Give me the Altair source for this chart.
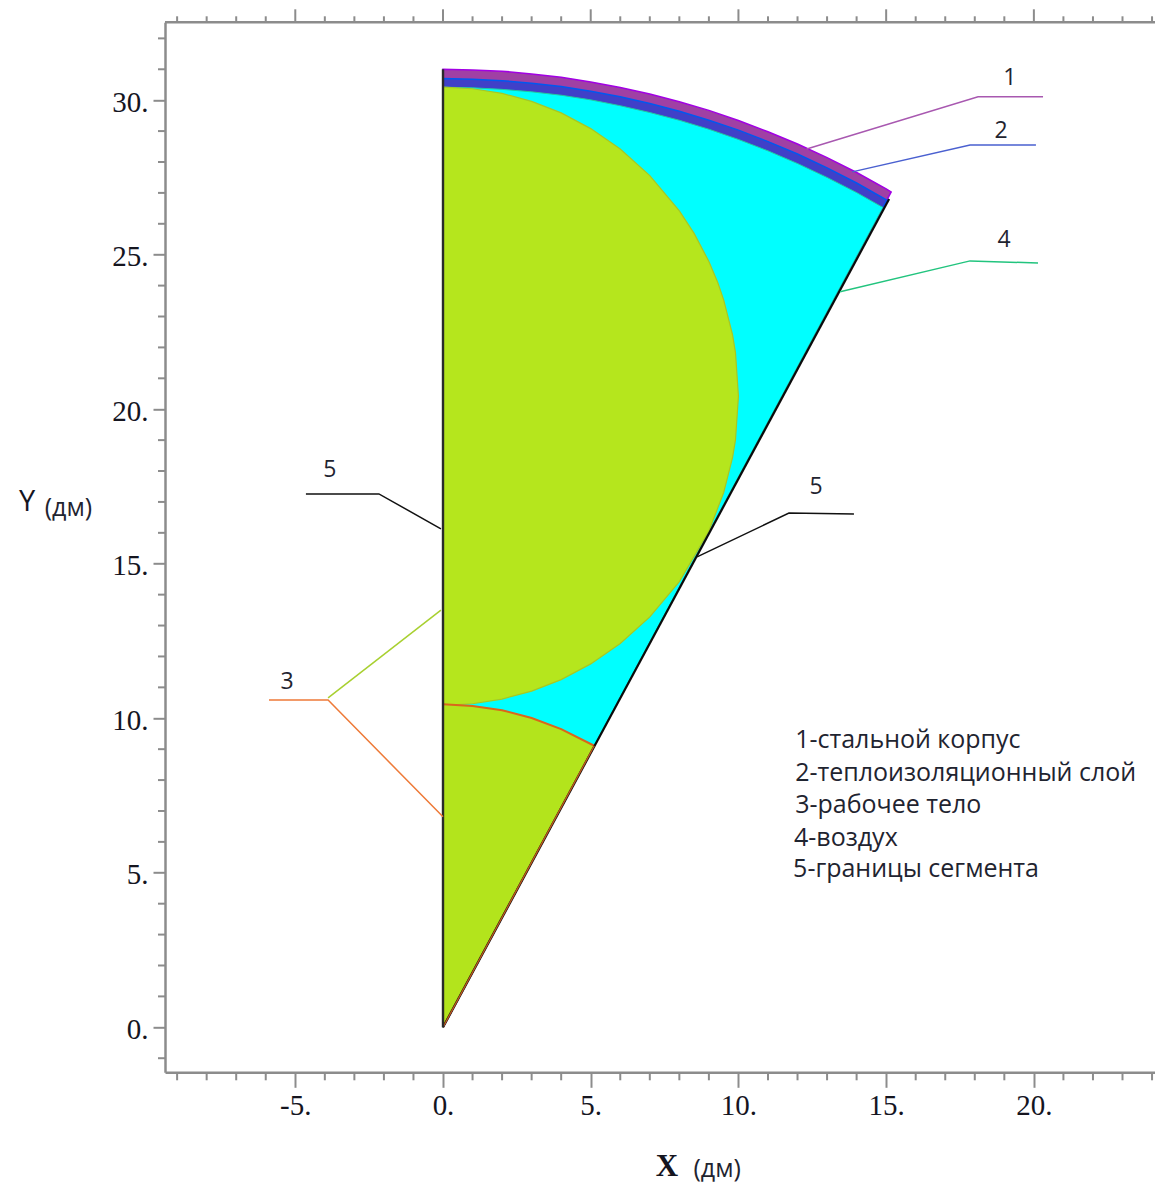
import altair as alt
import pandas as pd

# ---- region outlines (dm)
outer_x = [0, 1, 2, 3, 4, 5, 6, 7, 8, 9, 10, 11, 12, 13, 14, 15, 15.17]
outer_y = [31, 30.98, 30.94, 30.85, 30.74, 30.59, 30.41, 30.2, 29.95, 29.67, 29.34, 28.98, 28.58, 28.14, 27.66, 27.13, 27.03]
insul_x = [0, 1, 2, 3, 4, 5, 6, 7, 8, 9, 10, 11, 12, 13, 14, 15.02]
insul_y = [30.7, 30.68, 30.63, 30.55, 30.44, 30.29, 30.11, 29.89, 29.64, 29.35, 29.03, 28.66, 28.26, 27.81, 27.32, 26.77]
air_x = [0, 1, 2, 3, 4, 5, 6, 7, 8, 9, 10, 11, 12, 13, 14, 14.89]
air_y = [30.42, 30.40, 30.35, 30.27, 30.16, 30.01, 29.82, 29.60, 29.35, 29.06, 28.73, 28.36, 27.95, 27.50, 27.01, 26.53]
body_x = [0, 1, 2, 3, 4, 5, 6, 7, 8, 8.5, 9, 9.3, 9.5, 9.8, 9.9, 10, 9.9, 9.8, 9.5, 9, 8, 7, 6, 5, 4, 3, 2, 1, 0]
body_y = [30.42, 30.37, 30.22, 29.96, 29.59, 29.08, 28.42, 27.56, 26.42, 25.69, 24.78, 24.10, 23.54, 22.41, 21.83, 20.42, 19.01, 18.43, 17.30, 16.06, 14.42, 13.28, 12.42, 11.76, 11.25, 10.88, 10.62, 10.47, 10.42]
lower_x = [0, 1, 2, 3, 4, 5.12]
lower_y = [10.45, 10.40, 10.26, 10.01, 9.65, 9.11]
edge_x = [0, 15.1]
edge_y = [0, 26.8]

# ---- leader lines
leaders = {
    "l1": ([12.31, 18.11, 20.31], [28.42, 30.11, 30.11], "#A858B0"),
    "l2": ([13.85, 17.84, 20.07], [27.68, 28.55, 28.55], "#4A60D0"),
    "l4": ([13.44, 17.84, 20.14], [23.80, 24.80, 24.73], "#22C47E"),
    "l5a": ([-0.07, -2.17, -4.64], [16.13, 17.26, 17.26], "#111111"),
    "l5b": ([8.60, 11.71, 13.91], [15.22, 16.64, 16.61], "#111111"),
    "l3a": ([-0.07, -3.89], [13.50, 10.66], "#A8D030"),
    "l3b": ([-5.89, -3.89, 0], [10.59, 10.59, 6.81], "#EE7A38"),
}

# ---- text
num_text = ["1", "2", "4", "5", "5", "3"]
num_x = [19.19, 18.89, 18.99, -3.83, 12.63, -5.28]
num_y = [30.72, 29.0, 25.48, 18.03, 17.49, 11.17]
note_text = ["1-стальной корпус", "2-теплоизоляционный слой", "3-рабочее тело", "4-воздух", "5-границы сегмента"]
note_x = [11.92, 11.92, 11.92, 11.88, 11.85]
note_y = [9.30, 8.23, 7.19, 6.13, 5.12]

x_major = [-5, 0, 5, 10, 15, 20]
x_minor = [-9, -8, -7, -6, -4, -3, -2, -1, 1, 2, 3, 4, 6, 7, 8, 9, 11, 12, 13, 14, 16, 17, 18, 19, 21, 22, 23, 24]
y_major = [0, 5, 10, 15, 20, 25, 30]
y_minor = [-1, 1, 2, 3, 4, 6, 7, 8, 9, 11, 12, 13, 14, 16, 17, 18, 19, 21, 22, 23, 24, 26, 27, 28, 29, 31, 32]

W, H = 990, 1050
xs = alt.Scale(domain=[-9.41, 24.10], nice=False, zero=False)
ys = alt.Scale(domain=[-1.456, 32.52], nice=False, zero=False)
FRAME = "#8c8c8c"
SERIF = "Liberation Serif"
NOTE = "Open Sans"

X = alt.X("x:Q", scale=xs, title=None)
Y = alt.Y("y:Q", scale=ys, title=None)


def path(px, py):
    return pd.DataFrame({"x": px, "y": py, "o": range(len(px))})


def enc(ch):
    return ch.encode(x=X, y=Y, order="o:Q")


def poly(px, py, fill, stroke, sw=1.0):
    return enc(alt.Chart(path(px, py)).mark_line(fill=fill, stroke=stroke, strokeWidth=sw))


def line(px, py, color, sw=1.5):
    return enc(alt.Chart(path(px, py)).mark_line(color=color, strokeWidth=sw))


def sector(ax, ay):
    return [0] + ax + [0], [0] + ay + [0]


# main axes carry the major ticks and labels
base = alt.Chart(pd.DataFrame({"x": x_major, "y": y_major[:6]})).mark_point(opacity=0).encode(
    x=alt.X("x:Q", scale=xs, title=None, axis=alt.Axis(
        values=x_major, labelExpr="datum.value + '.'", tickSize=15, tickWidth=2, tickColor=FRAME,
        domainColor=FRAME, domainWidth=2.5, grid=False, labelFont=SERIF, labelFontSize=29,
        labelColor="#15151f", labelPadding=4, labelFlush=False, labelOverlap=False)),
    y=alt.Y("y:Q", scale=ys, title=None, axis=alt.Axis(
        values=y_major, labelExpr="datum.value + '.'", tickSize=12, tickWidth=2, tickColor=FRAME,
        domainColor=FRAME, domainWidth=2.5, grid=False, labelFont=SERIF, labelFontSize=29,
        labelColor="#15151f", labelPadding=5, labelOffset=2, labelFlush=False, labelOverlap=False)),
)

bottom_minor = alt.Chart(pd.DataFrame({"x": x_minor})).mark_rule(strokeWidth=2, color=FRAME).encode(
    x=X, y=alt.value(H), y2=alt.value(H + 8))
top_minor = alt.Chart(pd.DataFrame({"x": x_minor})).mark_rule(strokeWidth=2, color=FRAME).encode(
    x=X, y=alt.value(0), y2=alt.value(-6))
top_major = alt.Chart(pd.DataFrame({"x": x_major})).mark_rule(strokeWidth=2, color=FRAME).encode(
    x=X, y=alt.value(0), y2=alt.value(-13))
left_minor = alt.Chart(pd.DataFrame({"y": y_minor})).mark_rule(strokeWidth=2, color=FRAME).encode(
    y=Y, x=alt.value(0), x2=alt.value(-7))
top_frame = alt.Chart(pd.DataFrame({"a": [0]})).mark_rule(strokeWidth=2.5, color=FRAME).encode(
    x=alt.value(0), x2=alt.value(W), y=alt.value(0))

sx, sy = sector(outer_x, outer_y)
ix, iy = sector(insul_x, insul_y)
ax, ay = sector(air_x, air_y)
lx, ly = sector(lower_x, lower_y)

layers = [
    base, top_frame, bottom_minor, top_minor, top_major, left_minor,
    poly(sx, sy, "#A040A4", "#A200E4", 1.5),
    poly(ix, iy, "#4040C8", "#0058F0", 1.5),
    poly(ax, ay, "#00FFFF", "#22C8A0", 1.0),
    poly(body_x, body_y, "#B5E61D", "#A8C822", 1.2),
    poly(lx, ly, "#B3E41C", "#B3E41C", 0.5),
    line(lower_x, lower_y, "#DA661C", 2.0),
    line(edge_x, edge_y, "#0b0b0b", 2.2),
    line(lower_x[:1] + lower_x[-1:], [0, 9.11], "#C05A20", 1.4),
    line([0, 0], [0, 31], "#2a2a2a", 2.4),
]
for lxs, lys, col in leaders.values():
    layers.append(line(lxs, lys, col, 1.5))

nums = alt.Chart(pd.DataFrame({"x": num_x, "y": num_y, "t": num_text})).mark_text(
    font=NOTE, fontSize=23, color="#1f2430", align="center", baseline="middle"
).encode(x=X, y=Y, text="t:N")
notes = alt.Chart(pd.DataFrame({"x": note_x, "y": note_y, "t": note_text})).mark_text(
    font=NOTE, fontSize=25, color="#1f2430", align="left", baseline="middle"
).encode(x=X, y=Y, text="t:N")

y_t = alt.Chart(pd.DataFrame({"x": [-14.08], "y": [17.0], "t": ["Y"]})).mark_text(
    font="Open Sans", fontSize=29, color="#15151f", align="center", baseline="middle"
).encode(x=X, y=Y, text="t:N")
x_t = alt.Chart(pd.DataFrame({"x": [7.58], "y": [-4.52], "t": ["X"]})).mark_text(
    font=SERIF, fontSize=31, fontWeight="bold", color="#15151f", align="center", baseline="middle"
).encode(x=X, y=Y, text="t:N")
unit_x = [-12.68, 9.28]
unit_y = [16.8, -4.6]
unit = alt.Chart(pd.DataFrame({"x": unit_x, "y": unit_y, "t": ["(дм)", "(дм)"]})).mark_text(
    font=NOTE, fontSize=25, color="#1f2430", align="center", baseline="middle"
).encode(x=X, y=Y, text="t:N")

chart = alt.layer(*layers, nums, notes, y_t, x_t, unit).properties(
    width=W, height=H,
    padding={"left": 157, "top": 14.3, "right": 0, "bottom": 113},
    autosize=alt.AutoSizeParams(type="none"),
).configure_view(stroke=None)

chart.save("out.html", embed_options={"renderer": "svg", "actions": False})
